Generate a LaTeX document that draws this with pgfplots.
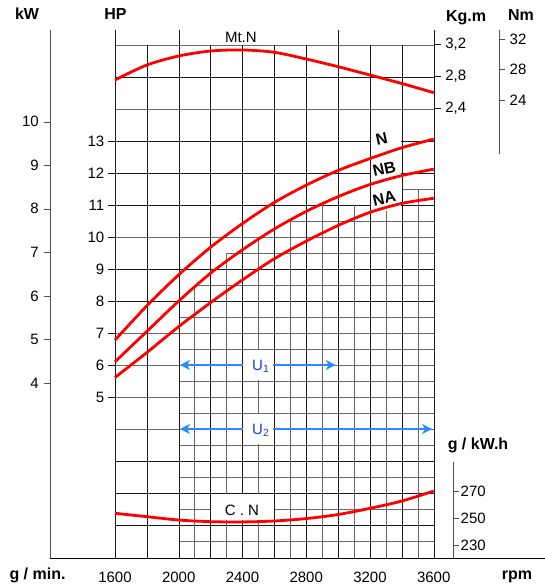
\documentclass[border=0pt]{standalone}
\usepackage{fontspec}
\setmainfont{Liberation Sans}
\usepackage{pgfplots}
\pgfplotsset{compat=1.18}
\usetikzlibrary{arrows.meta}

\definecolor{gridblack}{RGB}{25,25,25}
\definecolor{gridgray}{RGB}{105,105,105}
\definecolor{axisgray}{RGB}{80,80,80}
\definecolor{curvered}{RGB}{255,0,0}
\definecolor{ublue}{RGB}{40,140,255}
\definecolor{utext}{RGB}{25,55,225}

\newcommand\lbl{\fontsize{15}{18}\selectfont}
\newcommand\ttl{\fontsize{16}{19}\selectfont\bfseries}

\pgfplotsset{
  layer/.style={
    at={(115pt,28pt)}, anchor=south west, scale only axis,
    width=318.7pt, height=528pt,
    xmin=1600, xmax=3600, axis lines=none, clip=false,
    font=\lbl,
  },
  redcurve/.style={curvered, line width=2.8pt, smooth, no markers},
  thin/.style={line width=0.9pt},
}

\begin{document}
\begin{tikzpicture}[x=1pt,y=1pt,font=\lbl]
\path[use as bounding box] (0,0) rectangle (545,586);

% ---- main layer: HP scale, grid and power curves
\begin{axis}[layer, ymin=-0.03125, ymax=16.46875]
  % integer horizontals
  \pgfplotsinvokeforeach{1,2,3,8,9,11,12,13,15}{
    \draw[gridblack,thin] (axis cs:1600,#1) -- (axis cs:3600,#1);}
  \pgfplotsinvokeforeach{4,5,6,7,10,14,16}{
    \draw[gridgray,thin] (axis cs:1600,#1) -- (axis cs:3600,#1);}
  % half horizontals, staircase under the curves
  \pgfplotsinvokeforeach{0.5,1.5,2.5,3.5,4.5,5.5,6.5,7.5}{
    \draw[gridgray,thin] (axis cs:2000,#1) -- (axis cs:3600,#1);}
  \draw[gridgray,thin] (axis cs:2100,8.5) -- (axis cs:3600,8.5);
  \draw[gridgray,thin] (axis cs:2300,9.5) -- (axis cs:3600,9.5);
  \draw[gridgray,thin] (axis cs:2700,10.5) -- (axis cs:3600,10.5);
  \draw[gridgray,thin] (axis cs:3400,11.5) -- (axis cs:3600,11.5);
  % fine verticals
  \draw[gridgray,thin] (axis cs:2100,-0.03125) -- (axis cs:2100,8.5);
  \draw[gridgray,thin] (axis cs:2300,-0.03125) -- (axis cs:2300,9.5);
  \draw[gridgray,thin] (axis cs:2500,-0.03125) -- (axis cs:2500,10);
  \draw[gridgray,thin] (axis cs:2700,-0.03125) -- (axis cs:2700,10.5);
  \draw[gridgray,thin] (axis cs:2900,-0.03125) -- (axis cs:2900,11);
  \draw[gridgray,thin] (axis cs:3100,-0.03125) -- (axis cs:3100,11);
  \draw[gridgray,thin] (axis cs:3300,-0.03125) -- (axis cs:3300,11);
  \draw[gridgray,thin] (axis cs:3500,-0.03125) -- (axis cs:3500,11.5);
  % major verticals
  \pgfplotsinvokeforeach{1800,2200,2400,2600,2800,3200,3400}{
    \draw[gridblack,thin] (axis cs:#1,-0.03125) -- (axis cs:#1,16);}
  \pgfplotsinvokeforeach{1600,2000,3000,3600}{
    \draw[gridblack,thin] (axis cs:#1,-0.03125) -- (axis cs:#1,16.46875);}

  % white boxes behind labels
  \fill[white] (axis cs:3205,10.8) rectangle (axis cs:3395,13.3);
  \fill[white] (axis cs:2205,1.16) rectangle (axis cs:2595,1.97);

  % U1 / U2 ranges
  \draw[ublue,line width=1.4pt,{Stealth[length=10pt,width=10pt,inset=3pt]}-{Stealth[length=10pt,width=10pt,inset=3pt]}]
    (axis cs:2008,6) -- (axis cs:2985,6);
  \draw[ublue,line width=1.4pt,{Stealth[length=10pt,width=10pt,inset=3pt]}-{Stealth[length=10pt,width=10pt,inset=3pt]}]
    (axis cs:2008,4) -- (axis cs:3590,4);
  \fill[white] (axis cs:2406,5.53) rectangle (axis cs:2594,6.47);
  \fill[white] (axis cs:2406,3.53) rectangle (axis cs:2594,4.47);
  \node[utext,anchor=base] at (axis cs:2515,5.84) {U\textsubscript{1}};
  \node[utext,anchor=base] at (axis cs:2515,3.84) {U\textsubscript{2}};

  \node[anchor=base] at (axis cs:2390,16.07) {Mt.N};
  \node[anchor=base] at (axis cs:2397,1.31) {C . N};

  % power curves
  \addplot[redcurve] coordinates {(1600,6.78) (1800,7.85) (2000,8.82) (2200,9.68) (2400,10.42) (2600,11.08) (2800,11.62) (3000,12.08) (3200,12.45) (3400,12.79) (3600,13.06)};
  \addplot[redcurve] coordinates {(1600,6.10) (1800,7.05) (2000,8.0) (2200,8.87) (2400,9.6) (2600,10.25) (2800,10.8) (3000,11.26) (3200,11.64) (3400,11.92) (3600,12.12)};
  \addplot[redcurve] coordinates {(1600,5.61) (1800,6.39) (2000,7.2) (2200,7.95) (2400,8.66) (2600,9.32) (2800,9.87) (3000,10.36) (3200,10.77) (3400,11.05) (3600,11.21)};
  \node[font=\ttl,rotate=12,inner sep=0pt] at (axis cs:3274,13.05) {N};
  \node[font=\ttl,rotate=12,inner sep=0pt] at (axis cs:3290,12.12) {NB};
  \node[font=\ttl,rotate=12,inner sep=0pt] at (axis cs:3290,11.2) {NA};

  % HP axis ticks
  \pgfplotsinvokeforeach{5,6,7,8,9,10,11,12,13}{
    \draw[gridblack,thin] (axis cs:1600,#1) -- ++(-7pt,0pt)
      node[text=black,anchor=east,inner sep=0pt,xshift=-3.5pt] {#1};}
  % kW axis
  \draw[axisgray,line width=1pt] (axis cs:1192.1,-0.03125) -- (axis cs:1192.1,16.46875);
  \pgfplotsinvokeforeach{4,5,6,7,8,9,10}{
    \draw[axisgray,thin] (axis cs:1192.1,{5.44+(#1-4)*1.36}) -- ++(-6pt,0pt)
      node[text=black,anchor=east,inner sep=0pt,xshift=-5pt] {#1};}
  % rpm axis
  \draw[black,line width=1pt] (axis cs:1192.1,-0.03125) -- (axis cs:4298,-0.03125);
  \pgfplotsinvokeforeach{1600,2000,2400,2800,3200,3600}{
    \node[anchor=base] at (axis cs:#1,-0.03125) [yshift=-24.5pt] {#1};}
\end{axis}

% ---- torque layer (Kg.m)
\begin{axis}[layer, ymin=-3.22125, ymax=3.37875]
  \addplot[redcurve] coordinates {(1600,2.754) (1800,2.941) (2000,3.054) (2200,3.116) (2400,3.129) (2600,3.10) (2800,3.016) (3000,2.92) (3200,2.816) (3400,2.71) (3600,2.595)};
  \draw[gridblack,thin] (axis cs:3600,3.2) -- ++(7.5pt,0pt) node[text=black,anchor=west,inner sep=0pt,xshift=4pt] {3,2};
  \draw[gridblack,thin] (axis cs:3600,2.8) -- ++(7.5pt,0pt) node[text=black,anchor=west,inner sep=0pt,xshift=4pt] {2,8};
  \draw[gridblack,thin] (axis cs:3600,2.4) -- ++(7.5pt,0pt) node[text=black,anchor=west,inner sep=0pt,xshift=4pt] {2,4};
  % Nm axis
  \draw[axisgray,line width=1pt] (axis cs:4010,3.37875) -- (axis cs:4010,1.829);
  \draw[axisgray,thin] (axis cs:4010,3.266) -- ++(6pt,0pt) node[text=black,anchor=west,inner sep=0pt,xshift=4.5pt] {32};
  \draw[axisgray,thin] (axis cs:4010,2.891) -- ++(6pt,0pt) node[text=black,anchor=west,inner sep=0pt,xshift=4.5pt] {28};
  \draw[axisgray,thin] (axis cs:4010,2.495) -- ++(6pt,0pt) node[text=black,anchor=west,inner sep=0pt,xshift=4.5pt] {24};
\end{axis}

% ---- consumption layer (g/kW.h)
\begin{axis}[layer, ymin=220.593, ymax=611.70]
  \addplot[redcurve] coordinates {(1600,253.7) (1800,251.2) (2000,248.7) (2200,247.5) (2400,247.3) (2600,248.0) (2800,249.8) (3000,252.8) (3200,257.4) (3400,262.8) (3600,270.2)};
  \draw[axisgray,line width=1pt] (axis cs:3721.3,291.9) -- (axis cs:3721.3,220.593);
  \pgfplotsinvokeforeach{230,250,270}{
    \draw[axisgray,thin] (axis cs:3721.3,#1) -- ++(6pt,0pt)
      node[text=black,anchor=west,inner sep=0pt,xshift=1.5pt] {#1};}
\end{axis}

% ---- titles
\node[font=\ttl,anchor=base] at (27,566) {kW};
\node[font=\ttl,anchor=base] at (115.5,566) {HP};
\node[font=\ttl,anchor=base] at (466,564.5) {Kg.m};
\node[font=\ttl,anchor=base] at (521,565.3) {Nm};
\node[font=\ttl,anchor=base] at (478,136.5) {g / kW.h};
\node[font=\ttl,anchor=base] at (37.5,6) {g / min.};
\node[font=\ttl,anchor=base] at (517,6) {rpm};
\end{tikzpicture}
\end{document}
